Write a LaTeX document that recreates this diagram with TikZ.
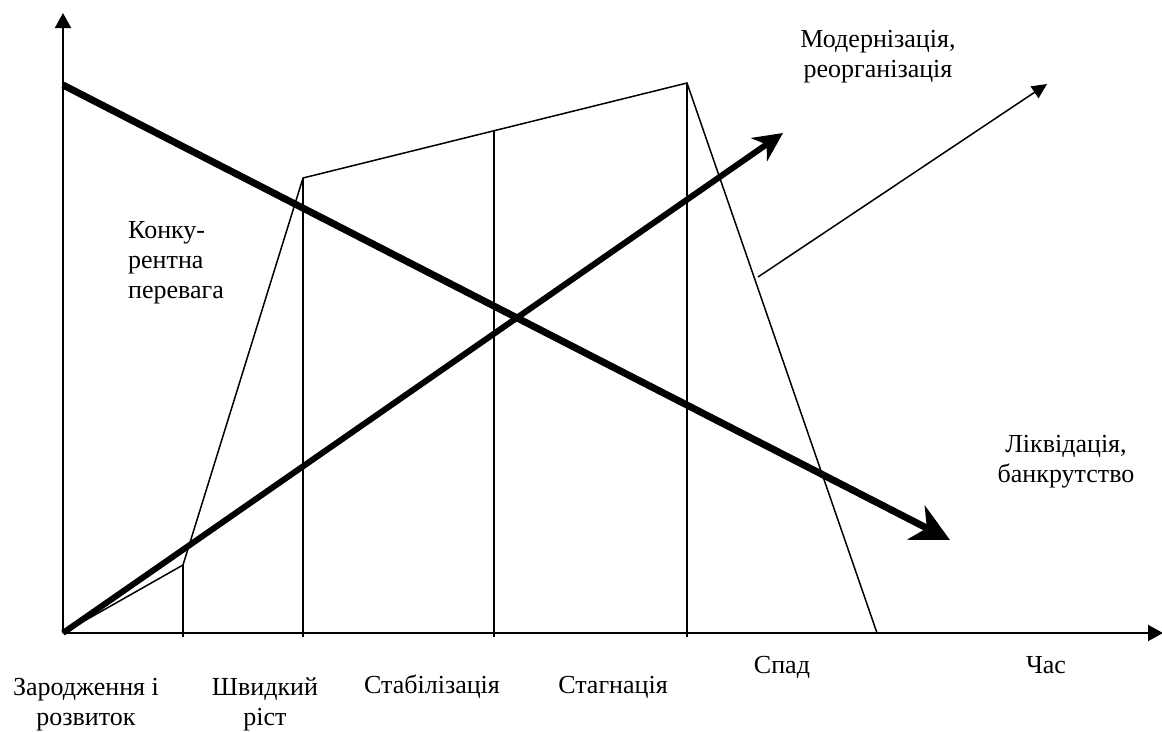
\documentclass[tikz,border=0pt]{standalone}
\usepackage{fontspec}
\setmainfont{Liberation Serif}
\usetikzlibrary{arrows.meta}
\begin{document}
\begin{tikzpicture}[x=1pt,y=-1pt,
  axis/.style={line width=2pt,-{Triangle[length=15pt,width=16pt]}},
  stage/.style={line width=1.5pt},
  fall/.style={line width=7pt,-{Stealth[length=38pt,width=38pt,inset=12pt]}},
  rise/.style={line width=6pt,-{Stealth[length=29pt,width=28pt,inset=9pt]}},
  exit/.style={line width=1.5pt,-{Triangle[length=15pt,width=14pt]}},
  lbl/.style={font=\fontsize{26}{30}\selectfont,inner sep=0pt,align=center,anchor=base},
]
\useasboundingbox (0,0) rectangle (1162,731);

% axes
\coordinate (O) at (63,633);
\coordinate (ytop) at (63,13);
\coordinate (xend) at (1163,633);
\draw[axis] (O) -- (ytop);
\draw[axis] (O) -- (xend);

% life-cycle curve
\coordinate (k1) at (183,565);
\coordinate (k2) at (303,178);
\coordinate (k3) at (494,130);
\coordinate (peak) at (687,83);
\coordinate (end) at (877,633);
\draw[stage] (O) -- (k1) -- (k2) -- (peak) -- (end);

% stage boundaries
\coordinate (b1) at (183,637);
\coordinate (b2) at (303,637);
\coordinate (b3) at (494,637);
\coordinate (b4) at (687,637);
\draw[stage] (b1) -- (k1);
\draw[stage] (b2) -- (k2);
\draw[stage] (b3) -- (k3);
\draw[stage] (b4) -- (peak);

% trend arrows
\coordinate (fs) at (63,85);
\coordinate (fe) at (950,540);
\draw[fall] (fs) -- (fe);
\coordinate (re) at (783,133);
\draw[rise] (O) -- (re);
\coordinate (ms) at (758,277);
\coordinate (me) at (1047,84);
\draw[exit] (ms) -- (me);

% labels (base anchor sits on the last line of multi-line text)
\node[lbl] (l1) at (86,725) {Зародження і\\розвиток};
\node[lbl] (l2) at (265,725) {Швидкий\\ріст};
\node[lbl] (l3) at (432,693) {Стабілізація};
\node[lbl] (l4) at (613,693) {Стагнація};
\node[lbl] (l5) at (782,673) {Спад};
\node[lbl] (l6) at (1046,673) {Час};
\node[lbl] (liq) at (1066,482) {Ліквідація,\\банкрутство};
\node[lbl] (mod) at (878,77) {Модернізація,\\реорганізація};
\node[lbl,align=left,anchor=base west] (adv) at (128,298) {Конку-\\рентна\\перевага};
\end{tikzpicture}
\end{document}
